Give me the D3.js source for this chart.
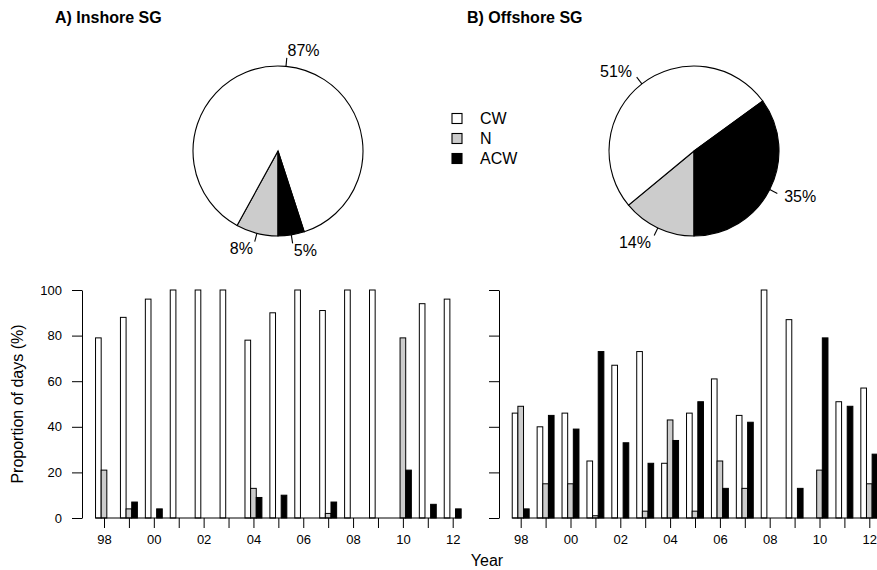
<!DOCTYPE html>
<html>
<head>
<meta charset="utf-8">
<script src="https://cdn.jsdelivr.net/npm/d3@7"></script>
<style>
  body { margin: 0; background: #fff; }
  svg { font-family: "Liberation Sans", Arial, sans-serif; }
</style>
</head>
<body>
<svg id="chart" width="877" height="570"></svg>
<script>
// data
var years = [1998, 1999, 2000, 2001, 2002, 2003, 2004, 2005, 2006, 2007, 2008, 2009, 2010, 2011, 2012];
var yearLabels = ["98", "", "00", "", "02", "", "04", "", "06", "", "08", "", "10", "", "12"];
var series = ["CW", "N", "ACW"];

var inshoreCW  = [79, 88, 96, 100, 100, 100, 78, 90, 100, 91, 100, 100, 0, 94, 96];
var inshoreN   = [21, 4, 0, 0, 0, 0, 13, 0, 0, 2, 0, 0, 79, 0, 0];
var inshoreACW = [0, 7, 4, 0, 0, 0, 9, 10, 0, 7, 0, 0, 21, 6, 4];

var offshoreCW  = [46, 40, 46, 25, 67, 73, 24, 46, 61, 45, 100, 87, 0, 51, 57];
var offshoreN   = [49, 15, 15, 1, 0, 3, 43, 3, 25, 13, 0, 0, 21, 0, 15];
var offshoreACW = [4, 45, 39, 73, 33, 24, 34, 51, 13, 42, 0, 13, 79, 49, 28];

var inshorePie  = [87, 8, 5];   // CW, N, ACW
var offshorePie = [51, 14, 35];

var yTicks = [0, 20, 40, 60, 80, 100];

var fills = { CW: "#ffffff", N: "#cccccc", ACW: "#000000" };

var svg = d3.select("#chart");

// titles
svg.append("text").attr("x", 55).attr("y", 23)
    .attr("font-size", 16).attr("font-weight", "bold").text("A) Inshore SG");
svg.append("text").attr("x", 467).attr("y", 23)
    .attr("font-size", 16).attr("font-weight", "bold").text("B) Offshore SG");

// pies
function drawPie(cx, cy, values) {
    var r = 85;
    // order N, CW, ACW clockwise starting at 6 o'clock
    var items = [
        { name: "N", v: values[1] },
        { name: "CW", v: values[0] },
        { name: "ACW", v: values[2] }
    ];
    var pie = d3.pie().sort(null).value(function (d) { return d.v; })
        .startAngle(Math.PI).endAngle(3 * Math.PI);
    var arcs = pie(items);
    var arc = d3.arc().innerRadius(0).outerRadius(r);
    var g = svg.append("g").attr("transform", "translate(" + cx + "," + cy + ")");
    g.selectAll("path").data(arcs).enter().append("path")
        .attr("d", arc)
        .attr("fill", function (d) { return fills[d.data.name]; })
        .attr("stroke", "#000").attr("stroke-width", 1.1);
    arcs.forEach(function (d) {
        var a = (d.startAngle + d.endAngle) / 2;
        var sx = Math.sin(a), sy = -Math.cos(a);
        g.append("line")
            .attr("x1", r * sx).attr("y1", r * sy)
            .attr("x2", r * 1.1 * sx).attr("y2", r * 1.1 * sy)
            .attr("stroke", "#000").attr("stroke-width", 1.1);
        g.append("text")
            .attr("x", r * 1.19 * sx).attr("y", r * 1.19 * sy)
            .attr("dominant-baseline", "central")
            .attr("text-anchor", sx < 0 ? "end" : "start")
            .attr("font-size", 16)
            .text(d.data.v + "%");
    });
}
drawPie(278, 151, inshorePie);
drawPie(694, 151, offshorePie);

// legend
series.forEach(function (s, i) {
    var y = 118.5 + i * 20;
    svg.append("rect").attr("x", 452).attr("y", y - 5).attr("width", 10).attr("height", 10)
        .attr("fill", fills[s]).attr("stroke", "#000").attr("stroke-width", 1.1);
    svg.append("text").attr("x", 480).attr("y", y).attr("dominant-baseline", "central")
        .attr("font-size", 16).text(s);
});

// bar panels
var y = d3.scaleLinear().domain([0, 100]).range([518, 290]);

function drawBars(axisX, firstX, lastX, cw, n, acw, showLabels) {
    var step = (lastX - firstX) / (years.length - 1);
    var x = d3.scaleBand().domain(years)
        .range([firstX - step / 2, lastX + step / 2])
        .paddingInner(0.32).paddingOuter(0.16);
    var xs = d3.scaleBand().domain(series).range([0, x.bandwidth()]);

    var rows = years.map(function (yr, i) {
        return { year: yr, CW: cw[i], N: n[i], ACW: acw[i] };
    });

    var g = svg.append("g");
    g.selectAll("g.grp").data(rows).enter().append("g")
        .attr("transform", function (d) { return "translate(" + x(d.year) + ",0)"; })
        .selectAll("rect")
        .data(function (d) { return series.map(function (s) { return { key: s, v: d[s] }; }); })
        .enter().append("rect")
        .filter(function (d) { return d.v > 0; })
        .attr("x", function (d) { return xs(d.key); })
        .attr("width", xs.bandwidth())
        .attr("y", function (d) { return y(d.v); })
        .attr("height", function (d) { return y(0) - y(d.v); })
        .attr("fill", function (d) { return fills[d.key]; })
        .attr("stroke", "#000").attr("stroke-width", 1);

    // baseline under bars
    g.append("line")
        .attr("x1", x(years[0])).attr("x2", x(years[years.length - 1]) + x.bandwidth())
        .attr("y1", y(0)).attr("y2", y(0))
        .attr("stroke", "#000").attr("stroke-width", 1);

    // x axis
    var xAxis = d3.axisBottom(d3.scalePoint().domain(years).range([firstX, lastX]))
        .tickSize(10).tickPadding(7)
        .tickFormat(function (d, i) { return yearLabels[i]; });
    var gx = g.append("g").attr("transform", "translate(0," + y(0) + ")").call(xAxis);
    gx.select(".domain").remove();
    gx.selectAll("text").attr("font-size", 13).attr("font-family", "Liberation Sans, Arial, sans-serif").attr("fill", "#000");
    gx.selectAll("line").attr("stroke", "#000");

    // y axis
    var yAxis = d3.axisLeft(y).tickValues(yTicks).tickSize(10).tickSizeOuter(0).tickPadding(10);
    if (!showLabels) yAxis.tickFormat("");
    var gy = g.append("g").attr("transform", "translate(" + axisX + ",0)").call(yAxis);
    gy.selectAll("text").attr("font-size", 13).attr("font-family", "Liberation Sans, Arial, sans-serif").attr("fill", "#000");
    gy.selectAll("line").attr("stroke", "#000");
    gy.select(".domain").attr("stroke", "#000");
}

drawBars(82, 104, 452.7, inshoreCW, inshoreN, inshoreACW, true);
drawBars(499, 520.7, 869.3, offshoreCW, offshoreN, offshoreACW, false);

// axis titles
svg.append("text")
    .attr("transform", "translate(23,404) rotate(-90)")
    .attr("text-anchor", "middle").attr("font-size", 16)
    .text("Proportion of days (%)");
svg.append("text")
    .attr("x", 487).attr("y", 566)
    .attr("text-anchor", "middle").attr("font-size", 16)
    .text("Year");
</script>
</body>
</html>
